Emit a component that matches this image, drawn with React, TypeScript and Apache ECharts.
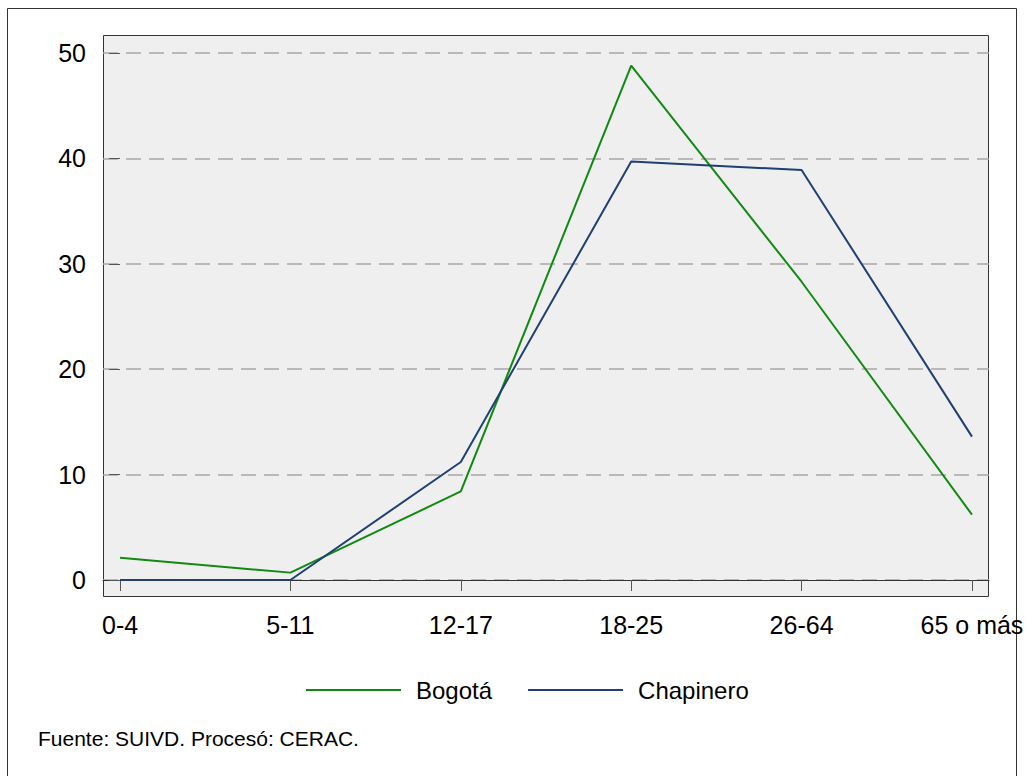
import React, { useEffect, useRef } from "react";
import * as echarts from "echarts";

const categories = ["0-4", "5-11", "12-17", "18-25", "26-64", "65 o más"];
const bogota = [2.1, 0.7, 8.4, 48.8, 28.3, 6.2];
const chapinero = [0, 0, 11.2, 39.7, 38.9, 13.6];
const yTicks = [0, 10, 20, 30, 40, 50];
const footer = "Fuente: SUIVD. Procesó: CERAC.";

const FONT = "'Liberation Sans', Arial, Helvetica, sans-serif";

export default function App() {
  const ref = useRef<HTMLDivElement>(null);
  useEffect(() => {
    if (!ref.current) return;
    const chart = echarts.init(ref.current, undefined, { renderer: "svg" });
    const idx = categories.map((_, i) => i);
    chart.setOption({
      animation: false,
      backgroundColor: "#ffffff",
      textStyle: { fontFamily: FONT },
      grid: { left: 103, right: 41, top: 53, bottom: 196, containLabel: false },
      xAxis: {
        type: "value",
        min: -0.1,
        max: 5.1,
        offset: 17,
        axisLine: { show: true, lineStyle: { color: "#333", width: 1 } },
        axisTick: {
          show: true,
          customValues: idx,
          length: 11,
          lineStyle: { color: "#555", width: 1 },
        },
        axisLabel: {
          show: true,
          customValues: idx,
          formatter: (v: number) => categories[Math.round(v)] ?? "",
          fontSize: 25,
          color: "#000",
          fontFamily: FONT,
          margin: 15,
        },
        splitLine: { show: false },
      },
      yAxis: {
        type: "value",
        min: yTicks[0],
        max: yTicks[yTicks.length - 1],
        interval: 10,
        axisLine: { show: false },
        axisTick: { show: true, length: 11, lineStyle: { color: "#555", width: 1 } },
        axisLabel: { fontSize: 25, color: "#000", fontFamily: FONT, margin: 17 },
        splitLine: {
          show: true,
          lineStyle: { color: "#a8a8a8", width: 1.5, type: [15, 8] },
        },
      },
      legend: {
        show: true,
        left: 301,
        top: 673,
        icon: "rect",
        itemWidth: 95,
        itemHeight: 2,
        itemGap: 36,
        textStyle: { fontSize: 24, color: "#000", fontFamily: FONT, padding: [0, 0, 0, 10] },
        data: ["Bogotá", "Chapinero"],
      },
      graphic: [
        {
          type: "rect",
          z: -100,
          shape: { x: 7.5, y: 8.5, width: 1009, height: 800 },
          style: { fill: "#fff", stroke: "#333", lineWidth: 1 },
        },
        {
          type: "rect",
          z: -90,
          shape: { x: 103.5, y: 35.5, width: 885, height: 561 },
          style: { fill: "#efefef", stroke: "#333", lineWidth: 1 },
        },
        {
          type: "text",
          x: 38,
          y: 738,
          style: {
            text: footer,
            fontSize: 21,
            fill: "#000",
            fontFamily: FONT,
            verticalAlign: "middle",
            align: "left",
          },
        },
      ],
      series: [
        {
          name: "Bogotá",
          type: "line",
          data: bogota.map((v, i) => [i, v]),
          symbol: "none",
          lineStyle: { color: "#128a12", width: 2 },
          itemStyle: { color: "#128a12" },
          z: 3,
        },
        {
          name: "Chapinero",
          type: "line",
          data: chapinero.map((v, i) => [i, v]),
          symbol: "none",
          lineStyle: { color: "#203f72", width: 2 },
          itemStyle: { color: "#203f72" },
          z: 3,
        },
      ],
    });
    return () => chart.dispose();
  }, []);
  return (
    <div
      ref={ref}
      style={{ position: "fixed", left: 0, top: 0, width: 1030, height: 776 }}
    />
  );
}
